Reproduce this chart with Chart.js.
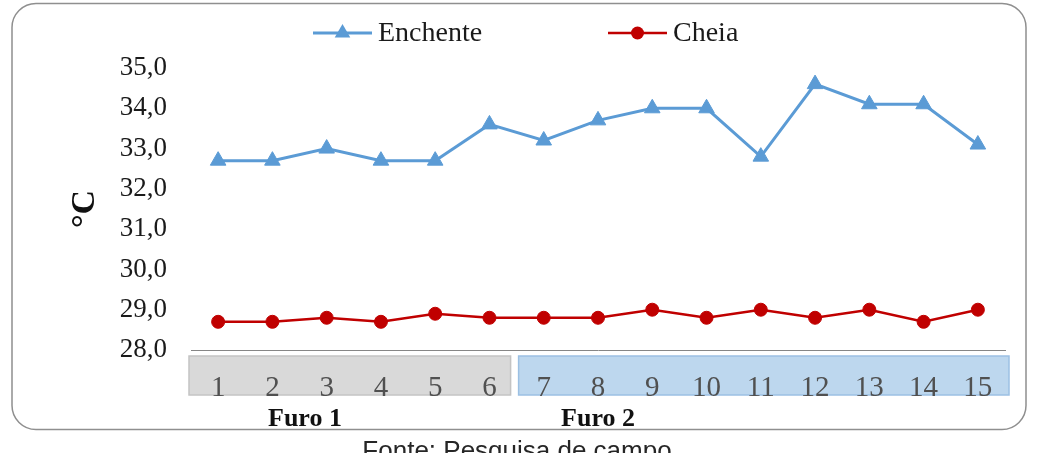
<!DOCTYPE html>
<html>
<head>
<meta charset="utf-8">
<script src="https://cdn.jsdelivr.net/npm/chart.js@4.4.0/dist/chart.umd.min.js"></script>
<style>
  html, body { margin: 0; padding: 0; background: #fff; }
  #wrap { position: relative; width: 1045px; height: 453px; }
</style>
</head>
<body>
<div id="wrap"><canvas id="myChart" width="1045" height="453"></canvas></div>
<script>
// values
const categories = ['1', '2', '3', '4', '5', '6', '7', '8', '9', '10', '11', '12', '13', '14', '15'];
const enchente = [32.7, 32.7, 33.0, 32.7, 32.7, 33.6, 33.2, 33.7, 34.0, 34.0, 32.8, 34.6, 34.1, 34.1, 33.1];
const cheia = [28.7, 28.7, 28.8, 28.7, 28.9, 28.8, 28.8, 28.8, 29.0, 28.8, 29.0, 28.8, 29.0, 28.7, 29.0];
const groupLabels = ['Furo 1', 'Furo 2'];
const groupStart = [0, 6];
const groupEnd = [5, 14];
const yMin = 28, yMax = 35, yStep = 1;

const serif = '"Liberation Serif", "Times New Roman", serif';

function marker(ctx, style, x, y, r) {
      ctx.beginPath();
      if (style === 'triangle') {
            for (let k = 0; k < 3; k++) {
                  const a = k * 2 * Math.PI / 3;
                  const px = x + Math.sin(a) * r, py = y - Math.cos(a) * r;
                  if (k === 0) ctx.moveTo(px, py); else ctx.lineTo(px, py);
            }
            ctx.closePath();
      } else {
            ctx.arc(x, y, r, 0, Math.PI * 2);
      }
      ctx.fill();
}

const decor = {
      id: 'decor',
      beforeDraw(chart) {
            const ctx = chart.ctx;
            const x = chart.scales.x;
            const bottom = chart.chartArea.bottom;
            const step = x.getPixelForValue(1) - x.getPixelForValue(0);
            ctx.save();
            // outer rounded frame
            ctx.strokeStyle = '#8f8f8f';
            ctx.lineWidth = 1.5;
            ctx.beginPath();
            ctx.roundRect(12, 3.5, 1014, 426, 24);
            ctx.stroke();
            // group bands under the axis
            const fills = ['#d9d9d9', '#bdd7ee'];
            const strokes = ['#c4c4c4', '#9cc0e3'];
            groupStart.forEach((s, i) => {
                  const l = x.getPixelForValue(s) - step / 2 + (i ? 2 : -2);
                  const r = x.getPixelForValue(groupEnd[i]) + step / 2 + (i ? 4 : -6);
                  ctx.fillStyle = fills[i];
                  ctx.strokeStyle = strokes[i];
                  ctx.lineWidth = 1.5;
                  ctx.fillRect(l, bottom + 6, r - l, 39);
                  ctx.strokeRect(l, bottom + 6, r - l, 39);
            });
            ctx.restore();
      },
      afterDraw(chart) {
            const ctx = chart.ctx;
            const x = chart.scales.x;
            ctx.save();
            // legend
            const legendX = [313, 608];
            chart.data.datasets.forEach((ds, i) => {
                  const lx = legendX[i], ly = 33;
                  ctx.strokeStyle = ds.borderColor;
                  ctx.fillStyle = ds.borderColor;
                  ctx.lineWidth = ds.borderWidth;
                  ctx.beginPath();
                  ctx.moveTo(lx, ly);
                  ctx.lineTo(lx + 59, ly);
                  ctx.stroke();
                  marker(ctx, ds.pointStyle, lx + 29.5, ly, ds.pointRadius);
                  ctx.fillStyle = '#1a1a1a';
                  ctx.font = '28px ' + serif;
                  ctx.textAlign = 'left';
                  ctx.textBaseline = 'middle';
                  ctx.fillText(ds.label, lx + 65, ly + 1);
            });
            // group names
            ctx.font = 'bold 26px ' + serif;
            ctx.fillStyle = '#111';
            ctx.textAlign = 'center';
            ctx.fillText(groupLabels[0], x.getPixelForValue(1.6), 419);
            ctx.fillText(groupLabels[1], x.getPixelForValue(7), 419);
            // source line
            ctx.font = '26px "Liberation Sans", Arial, sans-serif';
            ctx.fillStyle = '#262626';
            ctx.textBaseline = 'alphabetic';
            ctx.fillText('Fonte: Pesquisa de campo', 517, 459);
            ctx.restore();
      }
};

new Chart(document.getElementById('myChart'), {
      type: 'line',
      data: {
            labels: categories,
            datasets: [{
                  label: 'Enchente',
                  data: enchente,
                  borderColor: '#5b9bd5',
                  backgroundColor: '#5b9bd5',
                  borderWidth: 3,
                  pointStyle: 'triangle',
                  pointRadius: 9,
                  pointBorderWidth: 1,
                  tension: 0
            }, {
                  label: 'Cheia',
                  data: cheia,
                  borderColor: '#c00000',
                  backgroundColor: '#c00000',
                  borderWidth: 2.5,
                  pointStyle: 'circle',
                  pointRadius: 6.5,
                  pointBorderWidth: 1,
                  tension: 0
            }]
      },
      options: {
            responsive: false,
            animation: false,
            devicePixelRatio: 1,
            layout: { padding: { top: 68, right: 40, bottom: 0, left: 0 } },
            plugins: {
                  legend: { display: false },
                  tooltip: { enabled: false }
            },
            scales: {
                  x: {
                        offset: true,
                        grid: { display: false, drawTicks: false },
                        border: { display: true, color: '#868686', width: 1 },
                        ticks: {
                              color: '#505050',
                              padding: 21,
                              maxRotation: 0,
                              autoSkip: false,
                              font: { family: serif, size: 29 }
                        },
                        afterFit: s => { s.height = 103; }
                  },
                  y: {
                        min: yMin,
                        max: yMax,
                        grid: { display: false, drawTicks: false },
                        border: { display: false },
                        ticks: {
                              stepSize: yStep,
                              color: '#1a1a1a',
                              padding: 24,
                              font: { family: serif, size: 27 },
                              callback: v => v.toFixed(1).replace('.', ',')
                        },
                        title: {
                              display: true,
                              text: '°C',
                              color: '#111',
                              padding: { top: 65 },
                              font: { family: serif, size: 34, weight: 'bold' }
                        },
                        afterFit: s => { s.width = 191; }
                  }
            }
      },
      plugins: [decor]
});
</script>
</body>
</html>
